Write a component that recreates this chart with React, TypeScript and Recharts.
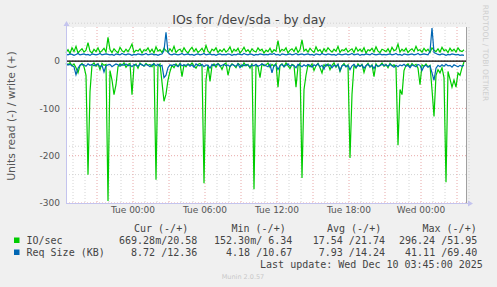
import { ComposedChart, Line, XAxis, YAxis, CartesianGrid, ReferenceLine } from "recharts";

// 5-minute rrd samples, one kept every 10 minutes, starting Mon 18:25
const STEP_MIN = 10;

const ioWrite = [
  18, 24, 16, 28, 20, 31, 17, 22, 26, 19, 23, 39, 21, 17, 25, 20, 28, 18, 22, 27,
  19, 50, 24, 18, 26, 21, 17, 29, 22, 19, 25, 20, 27, 36, 18, 23, 21, 26, 17, 24,
  22, 28, 19, 25, 17, 30, 21, 24, 18, 27, 22, 19, 26, 20, 31, 18, 23, 25, 19, 28,
  21, 17, 24, 29, 20, 26, 18, 22, 27, 19, 33, 21, 17, 25, 22, 28, 18, 24, 20, 26,
  19, 23, 30, 18, 25, 21, 27, 17, 22, 29, 20, 24, 18, 26, 21, 19, 28, 22, 25, 17,
  23, 20, 27, 18, 24, 21, 43, 19, 25, 22, 28, 17, 23, 26, 20, 29, 18, 24, 45, 21,
  25, 19, 27, 22, 18, 30, 21, 24, 17, 26, 20, 28, 23, 19, 25, 21, 31, 18, 24, 22,
  27, 19, 23, 26, 18, 29, 21, 25, 20, 28, 17, 24, 22, 27, 19, 30, 21, 18, 25, 23,
  20, 26, 18, 29, 22, 24, 36, 19, 25, 21, 27, 18, 23, 26, 20, 31, 22, 24, 19, 27,
  21, 25, 18, 28, 23, 20, 26, 19, 29, 22, 24, 18, 27, 21, 25, 19, 28, 22, 20, 24,
];

const ioRead = [
  -4, -8, -3, -10, -6, -14, -25, -9, -5, -12, -30, -240, -65, -8, -4, -11, -6, -18, -5, -9,
  -7, -296, -20, -40, -71, -50, -12, -6, -9, -4, -13, -7, -5, -71, -10, -6, -15, -4, -8, -11,
  -5, -9, -7, -12, -4, -251, -10, -6, -45, -85, -70, -40, -22, -9, -14, -6, -11, -5, -33, -8,
  -12, -6, -9, -4, -10, -15, -7, -5, -11, -258, -40, -8, -43, -10, -6, -13, -5, -9, -18, -7,
  -4, -30, -11, -6, -9, -14, -5, -8, -12, -4, -10, -7, -15, -5, -271, -9, -12, -35, -6, -10,
  -8, -4, -13, -7, -11, -5, -55, -9, -6, -12, -4, -10, -16, -7, -9, -55, -11, -5, -247, -60,
  -30, -8, -12, -6, -20, -10, -5, -14, -25, -8, -11, -6, -18, -9, -4, -13, -7, -22, -10, -5,
  -12, -8, -205, -70, -9, -15, -6, -11, -7, -24, -10, -5, -13, -8, -33, -6, -12, -9, -4, -11,
  -7, -14, -5, -10, -8, -13, -178, -60, -71, -20, -9, -6, -12, -5, -10, -7, -15, -50, -8, -11,
  -6, -12, -9, -60, -117, -30, -18, -25, -14, -35, -256, -22, -38, -55, -40, -55, -25, -30, -14, -2,
];

const reqWrite = [
  14, 13, 15, 14, 12, 14, 16, 13, 14, 15, 13, 14, 12, 15, 14, 13, 14, 16, 13, 14,
  15, 14, 13, 14, 12, 15, 14, 13, 16, 14, 13, 15, 14, 12, 14, 13, 15, 14, 13, 14,
  16, 13, 14, 15, 13, 14, 12, 14, 15, 22, 61, 18, 14, 13, 15, 14, 13, 14, 16, 13,
  14, 15, 13, 14, 12, 14, 15, 13, 14, 16, 13, 14, 15, 13, 14, 12, 14, 15, 13, 14,
  13, 15, 14, 12, 14, 13, 15, 14, 13, 16, 14, 13, 15, 14, 12, 14, 13, 15, 14, 13,
  14, 13, 15, 14, 16, 13, 14, 12, 15, 14, 13, 14, 15, 13, 14, 16, 13, 14, 15, 13,
  14, 15, 13, 14, 12, 15, 14, 13, 16, 14, 13, 15, 14, 13, 14, 12, 15, 14, 13, 14,
  15, 13, 14, 16, 13, 14, 15, 12, 14, 13, 15, 14, 13, 16, 14, 13, 14, 15, 13, 14,
  13, 14, 15, 13, 14, 16, 13, 14, 12, 15, 14, 13, 14, 15, 13, 14, 16, 13, 14, 15,
  14, 13, 20, 70, 18, 16, 14, 13, 15, 14, 12, 14, 13, 15, 14, 13, 14, 12, 13, 12,
];

const reqRead = [
  -6, -8, -7, -10, -12, -29, -15, -9, -7, -8, -11, -6, -9, -7, -10, -8, -6, -12, -9, -23,
  -10, -8, -7, -12, -9, -6, -8, -11, -7, -9, -6, -10, -8, -12, -7, -9, -11, -6, -8, -10,
  -7, -9, -12, -8, -6, -10, -7, -11, -9, -35, -30, -14, -8, -10, -7, -9, -12, -6, -10, -8,
  -9, -7, -11, -8, -13, -6, -9, -10, -7, -12, -8, -9, -15, -7, -10, -8, -6, -11, -9, -7,
  -10, -8, -12, -7, -9, -11, -6, -14, -8, -10, -7, -9, -12, -8, -10, -7, -11, -9, -6, -8,
  -10, -12, -7, -25, -9, -8, -18, -10, -7, -12, -9, -6, -11, -8, -10, -14, -7, -9, -12, -8,
  -11, -7, -9, -13, -8, -10, -6, -12, -9, -17, -7, -10, -8, -14, -9, -11, -7, -20, -10, -8,
  -12, -9, -18, -10, -7, -13, -9, -11, -8, -15, -10, -7, -12, -9, -16, -8, -11, -10, -7, -9,
  -8, -11, -7, -10, -13, -9, -12, -8, -10, -7, -11, -9, -14, -8, -10, -12, -7, -9, -20, -11,
  -9, -13, -10, -25, -41, -15, -9, -12, -8, -11, -7, -10, -9, -13, -8, -10, -12, -9, -11, -9,
];

// time axis, minutes since Mon 18:25
const X_TICKS = [335, 695, 1055, 1415, 1775];
const X_LABELS = ["Tue 00:00", "Tue 06:00", "Tue 12:00", "Tue 18:00", "Wed 00:00"];
const X_MAJOR = [155, 335, 515, 695, 875, 1055, 1235, 1415, 1595, 1775, 1955];
const X_MINOR = Array.from({ length: 34 }, (_, i) => 35 + i * 60).filter((v) => !X_MAJOR.includes(v));

const Y_TICKS = [-300, -200, -100, 0];
const Y_MINOR = Array.from({ length: 19 }, (_, i) => -280 + i * 20).filter((v) => !Y_TICKS.includes(v));

const legendNames = ["IO/sec", "Req Size (KB)"];
const legendColors = ["#00cc00", "#0066b3"];
const legendHeads = ["Cur (-/+)", "Min (-/+)", "Avg (-/+)", "Max (-/+)"];
const curVals = ["669.28m/20.58", "8.72 /12.36"];
const minVals = ["152.30m/ 6.34", "4.18 /10.67"];
const avgVals = ["17.54 /21.74", "7.93 /14.24"];
const maxVals = ["296.24 /51.95", "41.11 /69.40"];

const data = ioRead.map((v, i) => ({
  t: i * STEP_MIN,
  ioRead: v,
  ioWrite: ioWrite[i],
  reqRead: reqRead[i],
  reqWrite: reqWrite[i],
}));

const SANS = "'DejaVu Sans', sans-serif";
const MONO = "'DejaVu Sans Mono', monospace";
const AXIS = "#c4c4ee";

export default function App() {
  const cols = [curVals, minVals, avgVals, maxVals];
  const colEnds = [197.3, 292.3, 385, 477.3];
  const headStarts = [134, 231.5, 327, 422.5];

  return (
    <div style={{ position: "absolute", left: 0, top: 0, width: 497, height: 287, background: "#f0f0f0" }}>
      <div style={{ position: "absolute", left: 66, top: 27, width: 400, height: 176, background: "#fff" }} />
      <div style={{ position: "absolute", left: 0, top: 0 }}>
        <ComposedChart width={497} height={287} data={data} margin={{ top: 27, right: 31, bottom: 64, left: 10 }}>
          <CartesianGrid stroke="#d4d4d4" strokeDasharray="1 2" verticalValues={X_MINOR} horizontalValues={Y_MINOR} />
          <CartesianGrid stroke="#e8a8a8" strokeDasharray="1 2" verticalValues={X_MAJOR} horizontalValues={Y_TICKS} />
          <XAxis
            dataKey="t"
            type="number"
            domain={[0, 2000]}
            ticks={X_TICKS}
            tickFormatter={(v) => X_LABELS[X_TICKS.indexOf(v)]}
            axisLine={false}
            tickLine={false}
            tickSize={0}
            tickMargin={4}
            height={20}
            interval={0}
            tick={{ fontSize: 9, fill: "#555", fontFamily: SANS }}
          />
          <YAxis
            type="number"
            domain={[-300, 72]}
            ticks={Y_TICKS}
            allowDataOverflow
            axisLine={false}
            tickLine={false}
            tickSize={0}
            tickMargin={6}
            width={56}
            tick={{ fontSize: 9, fill: "#555", fontFamily: SANS }}
          />
          <Line type="linear" dataKey="ioRead" stroke="#00cc00" strokeWidth={1.2} dot={false} isAnimationActive={false} />
          <Line type="linear" dataKey="ioWrite" stroke="#00cc00" strokeWidth={1.2} dot={false} isAnimationActive={false} />
          <Line type="linear" dataKey="reqRead" stroke="#0066b3" strokeWidth={1.2} dot={false} isAnimationActive={false} />
          <Line type="linear" dataKey="reqWrite" stroke="#0066b3" strokeWidth={1.2} dot={false} isAnimationActive={false} />
          <ReferenceLine y={0} stroke="#000" strokeWidth={1.2} />
        </ComposedChart>
      </div>
      <svg width={497} height={287} style={{ position: "absolute", left: 0, top: 0, pointerEvents: "none" }}>
        <text x={249} y={24} textAnchor="middle" fontSize={12.5} fill="#444" fontFamily={SANS}>
          IOs for /dev/sda - by day
        </text>
        <text x={15} y={116} textAnchor="middle" fontSize={10.8} fill="#555" fontFamily={SANS} transform="rotate(-90 15 116)">
          Units read (-) / write (+)
        </text>
        <text x={483} y={53} textAnchor="middle" fontSize={7.5} fill="#cfcfcf" fontFamily={SANS} transform="rotate(90 483 53)">
          RRDTOOL / TOBI OETIKER
        </text>

        {/* frame: axis arrows and right border */}
        <line x1={66.5} y1={203} x2={66.5} y2={24} stroke={AXIS} />
        <polygon points="63.5,26 69.5,26 66.5,21" fill={AXIS} />
        <line x1={66} y1={203.5} x2={469} y2={203.5} stroke={AXIS} />
        <polygon points="468,200.5 468,206.5 473,203.5" fill={AXIS} />
        <line x1={466.5} y1={27} x2={466.5} y2={203} stroke="#a0a0a0" />

        {/* legend */}
        {legendHeads.map((h, i) => (
          <text key={h} x={headStarts[i]} y={232} fontSize={10} fill="#444" fontFamily={MONO} style={{ whiteSpace: "pre" }}>
            {h}
          </text>
        ))}
        {legendNames.map((name, r) => (
          <g key={name}>
            <rect x={14} y={237.5 + r * 12} width={5.5} height={5.5} fill={legendColors[r]} />
            <text x={26.5} y={244 + r * 12} fontSize={10} fill="#444" fontFamily={MONO} style={{ whiteSpace: "pre" }}>
              {name}
            </text>
            {cols.map((c, k) => (
              <text key={k} x={colEnds[k]} y={244 + r * 12} textAnchor="end" fontSize={10} fill="#444" fontFamily={MONO} style={{ whiteSpace: "pre" }}>
                {c[r]}
              </text>
            ))}
          </g>
        ))}
        <text x={482.8} y={267.5} textAnchor="end" fontSize={10} fill="#444" fontFamily={MONO} style={{ whiteSpace: "pre" }}>
          Last update: Wed Dec 10 03:45:00 2025
        </text>
        <text x={243} y={278.5} textAnchor="middle" fontSize={6.5} fill="#c8c8c8" fontFamily={SANS}>
          Munin 2.0.57
        </text>
      </svg>
    </div>
  );
}
